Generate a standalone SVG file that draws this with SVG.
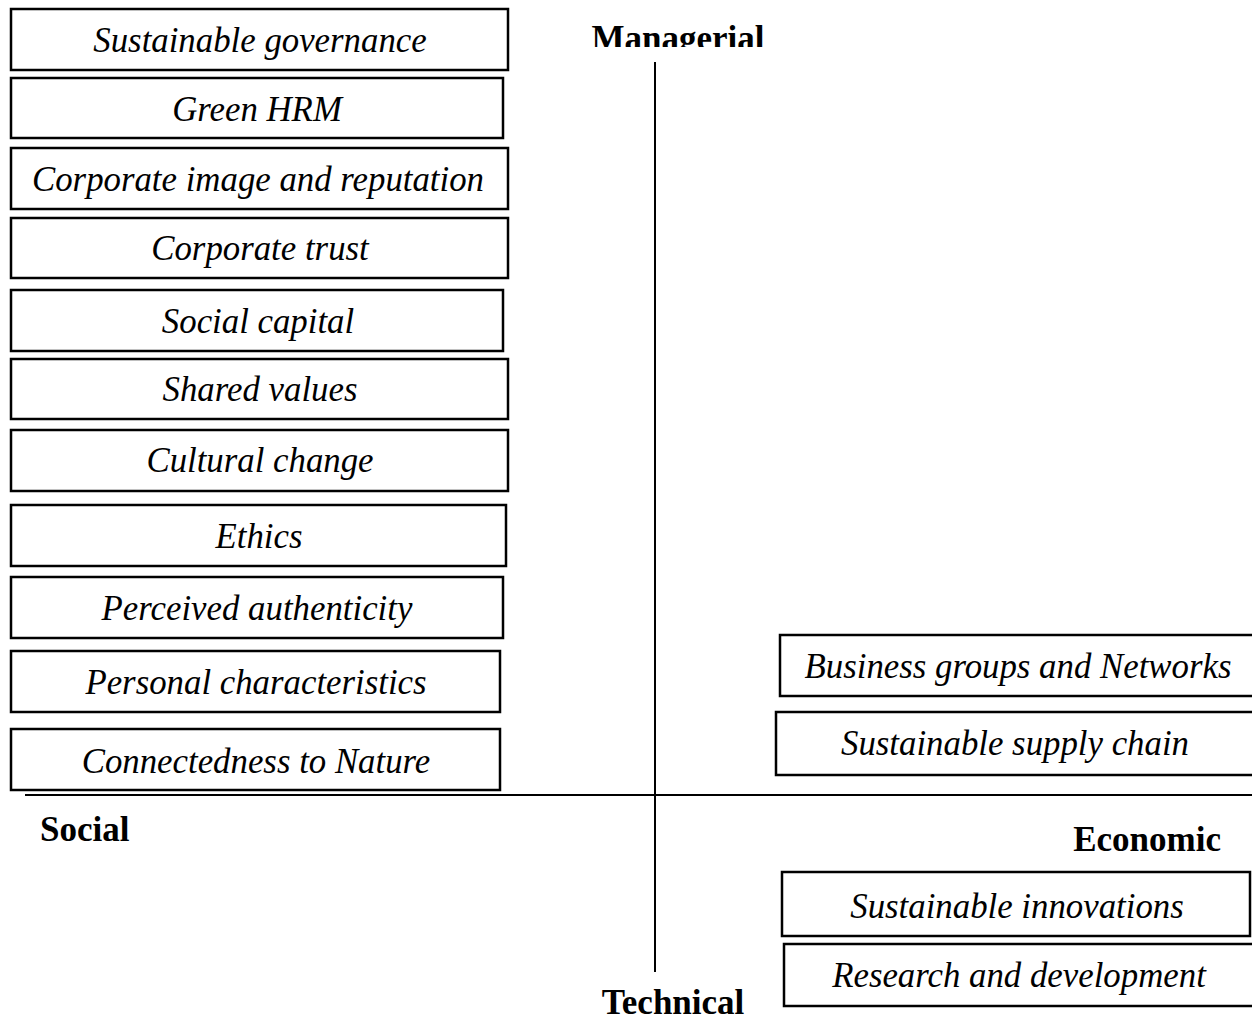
<svg xmlns="http://www.w3.org/2000/svg" width="1252" height="1020" viewBox="0 0 1252 1020">
<style>
.box{fill:#fff;stroke:#000;stroke-width:2.5}
.lbl{font-family:"Liberation Serif","Times New Roman",serif;font-style:italic;font-size:34.8px;fill:#000;text-anchor:middle}
.axis{font-family:"Liberation Serif","Times New Roman",serif;font-weight:bold;font-size:35px;fill:#000}
.ax{stroke:#000;stroke-width:2;fill:none}
</style>
<defs>
<clipPath id="clipM"><rect x="500" y="0" width="400" height="47"/></clipPath>
</defs>
<g id="connectors">
<line class="ax" x1="655" y1="62" x2="655" y2="972"/>
<line class="ax" x1="25" y1="795" x2="1252" y2="795"/>
</g>
<g id="axis-labels">
<text class="axis" x="678" y="50" text-anchor="middle" clip-path="url(#clipM)">Managerial</text>
<text class="axis" x="40" y="841">Social</text>
<text class="axis" x="1221" y="851" text-anchor="end">Economic</text>
<text class="axis" x="673" y="1014" text-anchor="middle">Technical</text>
</g>
<g id="n1"><rect class="box" x="11" y="9" width="497" height="61"/><text class="lbl" x="260" y="52">Sustainable governance</text></g>
<g id="n2"><rect class="box" x="11" y="78" width="492" height="60"/><text class="lbl" x="257" y="121">Green HRM</text></g>
<g id="n3"><rect class="box" x="11" y="148" width="497" height="61"/><text class="lbl" x="258" y="191">Corporate image and reputation</text></g>
<g id="n4"><rect class="box" x="11" y="218" width="497" height="60"/><text class="lbl" x="260" y="260">Corporate trust</text></g>
<g id="n5"><rect class="box" x="11" y="290" width="492" height="61"/><text class="lbl" x="258" y="333">Social capital</text></g>
<g id="n6"><rect class="box" x="11" y="359" width="497" height="60"/><text class="lbl" x="260" y="401">Shared values</text></g>
<g id="n7"><rect class="box" x="11" y="430" width="497" height="61"/><text class="lbl" x="260" y="472">Cultural change</text></g>
<g id="n8"><rect class="box" x="11" y="505" width="495" height="61"/><text class="lbl" x="259" y="548">Ethics</text></g>
<g id="n9"><rect class="box" x="11" y="577" width="492" height="61"/><text class="lbl" x="257" y="620">Perceived authenticity</text></g>
<g id="n10"><rect class="box" x="11" y="651" width="489" height="61"/><text class="lbl" x="256" y="694">Personal characteristics</text></g>
<g id="n11"><rect class="box" x="11" y="729" width="489" height="61"/><text class="lbl" x="256" y="773">Connectedness to Nature</text></g>
<g id="n12"><rect class="box" x="780" y="635" width="476" height="61"/><text class="lbl" x="1018" y="678">Business groups and Networks</text></g>
<g id="n13"><rect class="box" x="776" y="712" width="480" height="63"/><text class="lbl" x="1015" y="755">Sustainable supply chain</text></g>
<g id="n14"><rect class="box" x="782" y="872" width="468" height="64"/><text class="lbl" x="1017" y="918">Sustainable innovations</text></g>
<g id="n15"><rect class="box" x="784" y="944" width="472" height="62"/><text class="lbl" x="1019" y="987">Research and development</text></g>
</svg>
